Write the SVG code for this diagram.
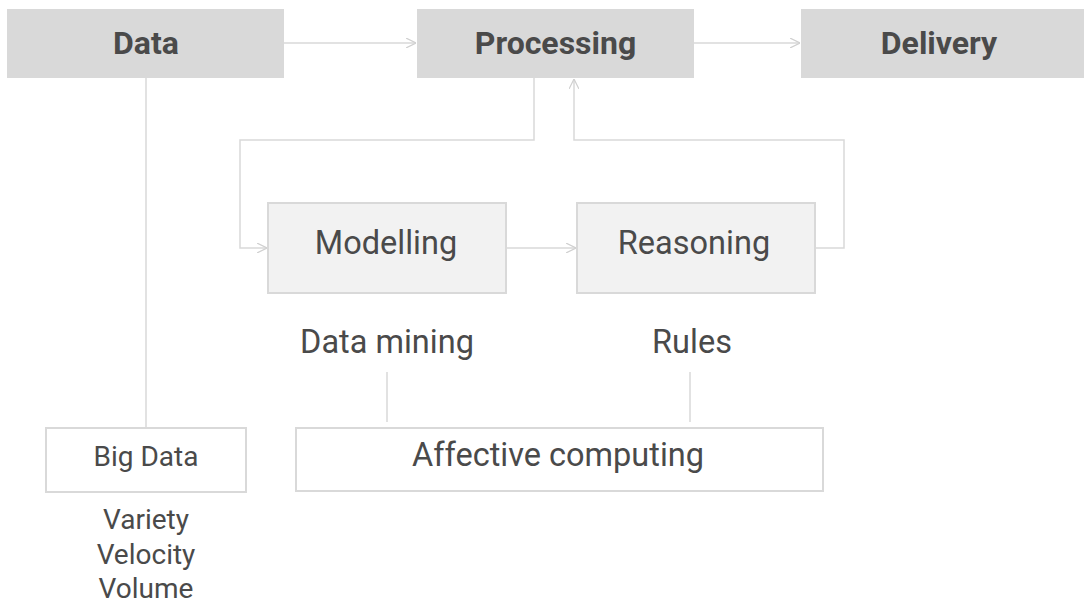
<svg xmlns="http://www.w3.org/2000/svg" width="1084" height="604" viewBox="0 0 1084 604">
<style>
.main{fill:#d9d9d9}
.sub{fill:#f2f2f2;stroke:#d9d9d9;stroke-width:2}
.box{fill:#ffffff;stroke:#d9d9d9;stroke-width:2}
.bt{font-family:Roboto,"Liberation Sans",sans-serif;font-weight:bold;font-size:32px;fill:#4a4a4a;text-anchor:middle}
.t{font-family:Roboto,"Liberation Sans",sans-serif;font-size:32.5px;fill:#4a4a4a;text-anchor:middle}
.s{font-family:Roboto,"Liberation Sans",sans-serif;font-size:28px;fill:#4a4a4a;text-anchor:middle}
.c{fill:none;stroke:#d9d9d9;stroke-width:1.5}
</style>
<defs>
<marker id="a" viewBox="0 0 10 10" refX="10" refY="5" markerWidth="10" markerHeight="10" markerUnits="userSpaceOnUse" orient="auto">
<path d="M0,0 L10,5 L0,10" fill="none" stroke="#d0d0d0" stroke-width="1.2"/>
</marker>
</defs>
<g id="connectors">
<path class="c" d="M284,43 H416" marker-end="url(#a)"/>
<path class="c" d="M694,43 H800" marker-end="url(#a)"/>
<path class="c" d="M534,78 V140 H240 V248 H267" marker-end="url(#a)"/>
<path class="c" d="M506,248 H576" marker-end="url(#a)"/>
<path class="c" d="M815,248 H844 V140 H574 V79" marker-end="url(#a)"/>
<path class="c" d="M146,78 V428"/>
<path class="c" d="M387,372 V422"/>
<path class="c" d="M690,372 V422"/>
</g>
<g id="data"><rect class="main" x="7" y="9" width="277" height="69"/><text class="bt" x="146" y="54">Data</text></g>
<g id="processing"><rect class="main" x="417" y="9" width="277" height="69"/><text class="bt" x="555.5" y="54">Processing</text></g>
<g id="delivery"><rect class="main" x="801" y="9" width="283" height="69"/><text class="bt" x="939" y="54">Delivery</text></g>
<g id="modelling"><rect class="sub" x="268" y="203" width="238" height="90"/><text class="t" x="386" y="254">Modelling</text></g>
<g id="reasoning"><rect class="sub" x="577" y="203" width="238" height="90"/><text class="t" x="694" y="254">Reasoning</text></g>
<g id="datamining"><text class="t" x="387" y="353">Data mining</text></g>
<g id="rules"><text class="t" x="692" y="353">Rules</text></g>
<g id="bigdata"><rect class="box" x="46" y="428" width="200" height="64"/><text class="s" x="146" y="466">Big Data</text></g>
<g id="affective"><rect class="box" x="296" y="428" width="527" height="63"/><text class="t" x="558" y="466">Affective computing</text></g>
<g id="vvv"><text class="s" x="146" y="529">Variety</text><text class="s" x="146" y="564">Velocity</text><text class="s" x="146" y="598">Volume</text></g>
</svg>
